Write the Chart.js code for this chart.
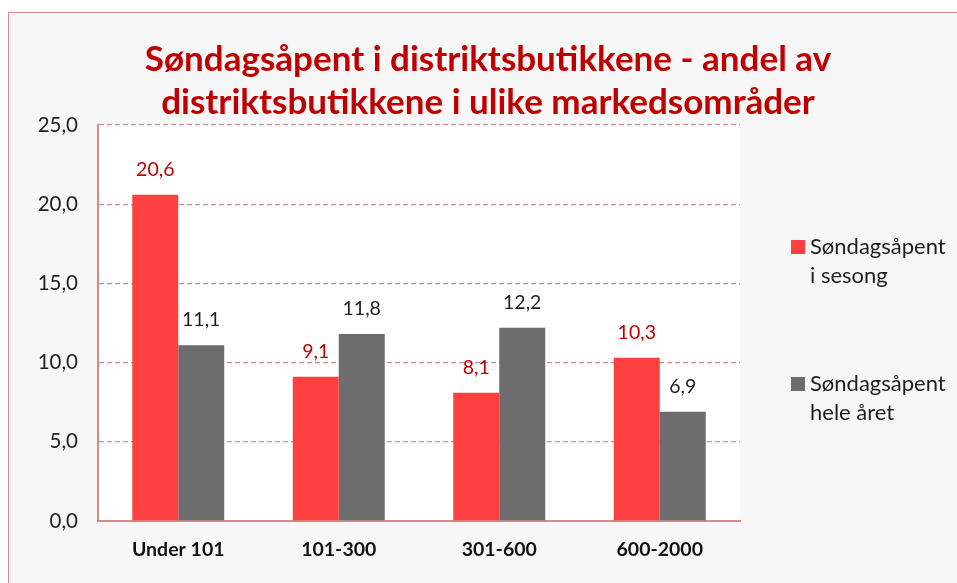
<!DOCTYPE html>
<html>
<head>
<meta charset="utf-8">
<script src="https://cdn.jsdelivr.net/npm/chart.js@4"></script>
<style>
  html, body { margin: 0; padding: 0; background: #fff; }
  #wrap { position: absolute; left: 0; top: 0; width: 957px; height: 583px; }
  #frame { position: absolute; left: 8px; top: 12px; width: 960px; height: 600px;
           border: 1px solid #d98a8a; background: #f7f7f7; }
  canvas { position: absolute; left: 0; top: 0; }
</style>
</head>
<body>
<div id="wrap">
  <div id="frame"></div>
  <canvas id="chart" width="957" height="583"></canvas>
</div>
<script>
  // kategorier og verdier
  const categories = ['Under 101', '101-300', '301-600', '600-2000'];
  const sesong = [20.6, 9.1, 8.1, 10.3];
  const heleAret = [11.1, 11.8, 12.2, 6.9];
  const seriesNames = [['Søndagsåpent', 'i sesong'], ['Søndagsåpent', 'hele året']];
  const yTicks = [0, 5, 10, 15, 20, 25];
  const titleLines = ['Søndagsåpent i distriktsbutikkene - andel av', 'distriktsbutikkene i ulike markedsområder'];

  const COLORS = {
    red: '#ff4040',
    gray: '#6d6d6d',
    title: '#c00000',
    labelRed: '#c00000',
    ink: '#1e1e1e',
    grid: '#d48a89'
  };
  const FONT = 'Lato, "Open Sans", sans-serif';
  const fmt = v => v.toFixed(1).replace('.', ',');

  // hvit plottbakgrunn
  const plotBg = {
    id: 'plotBg',
    beforeDraw(chart) {
      const { ctx, chartArea: a } = chart;
      ctx.save();
      ctx.fillStyle = '#ffffff';
      ctx.fillRect(a.left, a.top, a.right - a.left, a.bottom - a.top);
      ctx.restore();
    }
  };

  // tittel
  const titlePlugin = {
    id: 'titlePlugin',
    afterDraw(chart) {
      const ctx = chart.ctx;
      ctx.save();
      ctx.fillStyle = COLORS.title;
      ctx.font = 'bold 35px ' + FONT;
      ctx.textAlign = 'center';
      ctx.textBaseline = 'middle';
      ctx.fillText(titleLines[0], 488, 60);
      ctx.fillText(titleLines[1], 488, 103);
      ctx.restore();
    }
  };

  // dataetiketter over søylene
  const valueLabels = {
    id: 'valueLabels',
    afterDatasetsDraw(chart) {
      const ctx = chart.ctx;
      ctx.save();
      ctx.font = '19.5px ' + FONT;
      ctx.textAlign = 'center';
      ctx.textBaseline = 'middle';
      chart.data.datasets.forEach((ds, di) => {
        ctx.fillStyle = di === 0 ? COLORS.labelRed : COLORS.ink;
        chart.getDatasetMeta(di).data.forEach((bar, i) => {
          ctx.fillText(fmt(ds.data[i]), bar.x, bar.y - 25);
        });
      });
      ctx.restore();
    }
  };

  // forklaring til høyre, to linjer per serie
  const sideLegend = {
    id: 'sideLegend',
    afterDraw(chart) {
      const ctx = chart.ctx;
      const rows = [247, 384];
      ctx.save();
      ctx.font = '22px ' + FONT;
      ctx.textBaseline = 'middle';
      chart.data.datasets.forEach((ds, di) => {
        const y = rows[di];
        ctx.fillStyle = ds.backgroundColor;
        ctx.fillRect(791, y - 7, 14, 14);
        ctx.fillStyle = COLORS.ink;
        seriesNames[di].forEach((line, li) => {
          ctx.fillText(line, 810, y + li * 29);
        });
      });
      ctx.restore();
    }
  };

  new Chart(document.getElementById('chart').getContext('2d'), {
    type: 'bar',
    data: {
      labels: categories,
      datasets: [
        { label: seriesNames[0].join(' '), data: sesong, backgroundColor: COLORS.red,
          categoryPercentage: 0.573, barPercentage: 1 },
        { label: seriesNames[1].join(' '), data: heleAret, backgroundColor: COLORS.gray,
          categoryPercentage: 0.573, barPercentage: 1 }
      ]
    },
    options: {
      responsive: false,
      animation: false,
      layout: { padding: { top: 125, right: 217, left: 0, bottom: 0 } },
      plugins: {
        legend: { display: false },
        tooltip: { enabled: false },
        title: { display: false }
      },
      scales: {
        y: {
          min: 0,
          max: 25,
          afterFit: s => { s.width = 98; },
          afterBuildTicks: s => { s.ticks = yTicks.map(v => ({ value: v })); },
          ticks: {
            padding: 20,
            color: '#222',
            font: { family: FONT, size: 20.5 },
            callback: v => fmt(v)
          },
          grid: {
            drawTicks: false,
            color: ctx => ctx.tick && ctx.tick.value === 0 ? 'rgba(0,0,0,0)' : COLORS.grid,
            lineWidth: 1.3
          },
          border: { color: COLORS.grid, width: 2, dash: [5, 3] }
        },
        x: {
          afterFit: s => { s.height = 62; },
          ticks: {
            padding: 17,
            color: '#111',
            font: { family: FONT, size: 19.5, weight: 'bold' }
          },
          grid: { display: false, drawTicks: false },
          border: { color: COLORS.grid, width: 2 }
        }
      }
    },
    plugins: [plotBg, valueLabels, titlePlugin, sideLegend]
  });
</script>
</body>
</html>
